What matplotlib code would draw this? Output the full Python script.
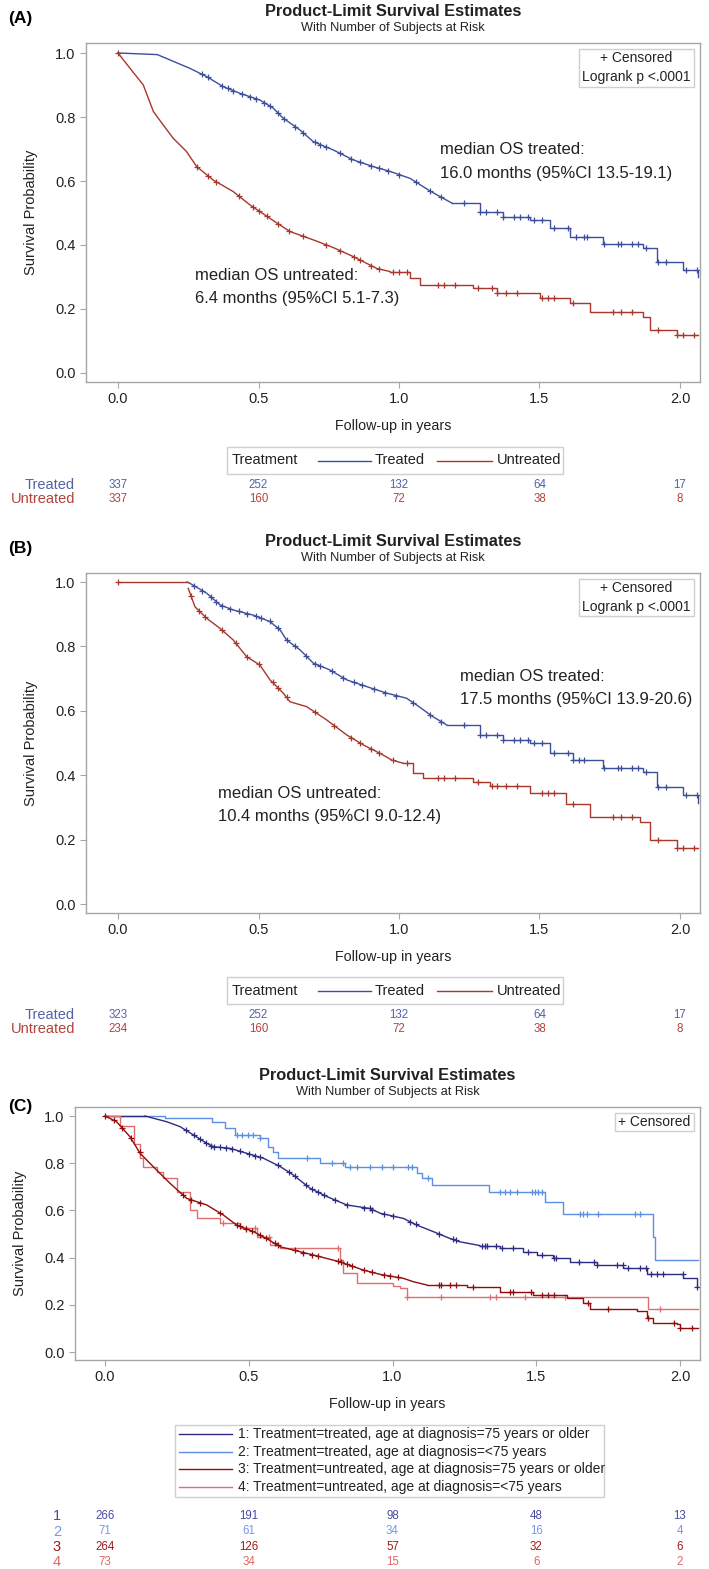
import numpy as np
import matplotlib
matplotlib.use("Agg")
import matplotlib.pyplot as plt
from matplotlib.lines import Line2D
from matplotlib.patches import Rectangle
import matplotlib.transforms as mtransforms

plt.rcParams['font.family'] = ['Liberation Sans', 'DejaVu Sans']

W, H = 709, 1569

# ---------------- data: panel A ----------------
A_trt_t = [0, 0.14, 0.256, 0.316, 0.374, 0.434, 0.505, 0.552, 0.587, 0.648, 0.695, 0.766, 0.837, 0.908, 0.968,
           1.04, 1.11, 1.19, 1.288, 1.37, 1.466, 1.537, 1.608, 1.726, 1.868, 1.918, 2.011, 2.064]
A_trt_s = [1.0, 0.995, 0.952, 0.926, 0.895, 0.874, 0.853, 0.828, 0.797, 0.759, 0.723, 0.697, 0.666, 0.645, 0.630,
           0.608, 0.569, 0.530, 0.504, 0.488, 0.478, 0.453, 0.426, 0.403, 0.390, 0.348, 0.322, 0.301]
A_unt_t = [0, 0.043, 0.09, 0.126, 0.161, 0.197, 0.244, 0.28, 0.339, 0.41, 0.47, 0.541, 0.612, 0.695, 0.766, 0.837,
           0.92, 0.968, 1.04, 1.075, 1.265, 1.348, 1.502, 1.608, 1.68, 1.868, 1.893, 1.989, 2.064]
A_unt_s = [1.0, 0.952, 0.90, 0.817, 0.775, 0.733, 0.692, 0.645, 0.603, 0.567, 0.525, 0.483, 0.442, 0.416, 0.392,
           0.364, 0.327, 0.317, 0.296, 0.275, 0.265, 0.249, 0.233, 0.218, 0.192, 0.176, 0.134, 0.119, 0.119]
A_trt_cens = [0.30, 0.32, 0.37, 0.39, 0.41, 0.44, 0.47, 0.49, 0.52, 0.54, 0.57, 0.59, 0.63, 0.66, 0.70, 0.72, 0.74,
              0.79, 0.83, 0.86, 0.90, 0.93, 0.96, 1.00, 1.06, 1.11, 1.15, 1.23, 1.29, 1.31, 1.35, 1.37, 1.41, 1.43,
              1.46, 1.48, 1.51, 1.55, 1.60, 1.63, 1.66, 1.67, 1.73, 1.78, 1.79, 1.83, 1.85, 1.88, 1.92, 1.95, 2.02, 2.06]
A_unt_cens = [0.0, 0.28, 0.32, 0.35, 0.43, 0.48, 0.50, 0.53, 0.57, 0.61, 0.66, 0.74, 0.79, 0.84, 0.86, 0.90, 0.93,
              0.98, 1.00, 1.03, 1.14, 1.16, 1.20, 1.28, 1.33, 1.35, 1.38, 1.42, 1.51, 1.53, 1.55, 1.62, 1.76, 1.79,
              1.83, 1.92, 1.99, 2.01, 2.05]
A_risk_trt = [337, 252, 132, 64, 17]
A_risk_unt = [337, 160, 72, 38, 8]

# ---------------- data: panel B ----------------
B_trt_t = [0.245, 0.256, 0.316, 0.363, 0.41, 0.482, 0.541, 0.577, 0.60, 0.648, 0.695, 0.754, 0.814, 0.885, 0.956,
           1.027, 1.063, 1.12, 1.17, 1.288, 1.37, 1.466, 1.537, 1.62, 1.727, 1.868, 1.918, 2.011, 2.064]
B_trt_s = [1.0, 0.996, 0.965, 0.929, 0.913, 0.897, 0.877, 0.851, 0.82, 0.789, 0.748, 0.727, 0.696, 0.675, 0.655,
           0.639, 0.618, 0.582, 0.556, 0.525, 0.51, 0.499, 0.468, 0.447, 0.421, 0.411, 0.364, 0.338, 0.313]
B_unt_t = [0, 0.25, 0.274, 0.316, 0.363, 0.41, 0.458, 0.505, 0.541, 0.588, 0.612, 0.671, 0.742, 0.814, 0.873,
           0.932, 0.975, 1.015, 1.051, 1.087, 1.265, 1.324, 1.466, 1.596, 1.68, 1.858, 1.893, 1.989, 2.064]
B_unt_s = [1.0, 0.98, 0.923, 0.887, 0.856, 0.82, 0.768, 0.742, 0.696, 0.655, 0.628, 0.613, 0.572, 0.525, 0.494,
           0.468, 0.447, 0.437, 0.406, 0.390, 0.380, 0.365, 0.344, 0.312, 0.271, 0.256, 0.199, 0.173, 0.173]
B_trt_cens = [0.27, 0.30, 0.33, 0.35, 0.37, 0.40, 0.43, 0.46, 0.49, 0.51, 0.54, 0.57, 0.60, 0.63, 0.67, 0.70, 0.72,
              0.76, 0.80, 0.84, 0.87, 0.91, 0.95, 0.99, 1.05, 1.11, 1.15, 1.23, 1.29, 1.31, 1.35, 1.37, 1.41, 1.43,
              1.46, 1.48, 1.51, 1.55, 1.60, 1.62, 1.64, 1.66, 1.73, 1.78, 1.79, 1.83, 1.85, 1.88, 1.92, 1.95, 2.02, 2.06]
B_unt_cens = [0.0, 0.26, 0.29, 0.31, 0.37, 0.42, 0.46, 0.50, 0.55, 0.57, 0.60, 0.70, 0.77, 0.83, 0.86, 0.90, 0.93,
              0.98, 1.03, 1.14, 1.16, 1.20, 1.28, 1.33, 1.35, 1.38, 1.42, 1.51, 1.53, 1.55, 1.62, 1.76, 1.79, 1.83,
              1.92, 1.99, 2.01, 2.05]
B_risk_trt = [323, 252, 132, 64, 17]
B_risk_unt = [234, 160, 72, 38, 8]

# ---------------- data: panel C ----------------
C1_t = [0, 0.139, 0.214, 0.261, 0.307, 0.354, 0.377, 0.435, 0.493, 0.551, 0.609, 0.655, 0.713, 0.771, 0.841,
        0.922, 0.957, 1.038, 1.084, 1.142, 1.20, 1.234, 1.304, 1.374, 1.455, 1.501, 1.559, 1.617, 1.71, 1.803,
        1.884, 2.012, 2.058]
C1_s = [1.0, 1.0, 0.976, 0.955, 0.92, 0.884, 0.870, 0.863, 0.842, 0.821, 0.786, 0.75, 0.694, 0.659, 0.623,
        0.608, 0.588, 0.566, 0.538, 0.510, 0.481, 0.467, 0.451, 0.439, 0.425, 0.411, 0.40, 0.382, 0.368, 0.354,
        0.329, 0.312, 0.276]
C2_t = [0, 0.209, 0.371, 0.417, 0.452, 0.539, 0.568, 0.585, 0.603, 0.748, 0.835, 1.084, 1.101, 1.136, 1.334,
        1.53, 1.594, 1.907, 1.912, 2.064]
C2_s = [1.0, 0.99, 0.976, 0.948, 0.92, 0.905, 0.87, 0.849, 0.821, 0.80, 0.783, 0.757, 0.736, 0.708, 0.680,
        0.637, 0.585, 0.489, 0.39, 0.39]
C3_t = [0, 0.04, 0.087, 0.122, 0.168, 0.226, 0.284, 0.354, 0.412, 0.458, 0.516, 0.562, 0.609, 0.655, 0.725,
        0.817, 0.899, 0.957, 1.038, 1.072, 1.119, 1.258, 1.374, 1.49, 1.606, 1.664, 1.687, 1.849, 1.884, 1.907,
        1.988, 2.0, 2.064]
C3_s = [1.0, 0.976, 0.912, 0.842, 0.785, 0.715, 0.651, 0.623, 0.58, 0.538, 0.510, 0.481, 0.446, 0.432, 0.411,
        0.382, 0.347, 0.329, 0.312, 0.298, 0.284, 0.277, 0.256, 0.24, 0.228, 0.207, 0.183, 0.172, 0.144, 0.122,
        0.117, 0.103, 0.103]
C4_t = [0, 0.052, 0.10, 0.122, 0.133, 0.18, 0.203, 0.249, 0.296, 0.319, 0.40, 0.47, 0.528, 0.574, 0.609, 0.817,
        0.829, 0.875, 1.003, 1.026, 1.049, 1.888, 2.064]
C4_s = [1.0, 0.958, 0.881, 0.824, 0.782, 0.761, 0.736, 0.679, 0.601, 0.566, 0.545, 0.524, 0.488, 0.453, 0.439,
        0.39, 0.333, 0.291, 0.28, 0.270, 0.232, 0.181, 0.181]
C1_cens = [0.28, 0.31, 0.33, 0.35, 0.37, 0.38, 0.40, 0.42, 0.44, 0.47, 0.50, 0.52, 0.54, 0.60, 0.64, 0.66, 0.70,
           0.72, 0.74, 0.76, 0.80, 0.84, 0.90, 0.92, 0.93, 0.97, 1.0, 1.06, 1.08, 1.16, 1.21, 1.22, 1.31, 1.32,
           1.33, 1.36, 1.38, 1.42, 1.47, 1.52, 1.56, 1.57, 1.65, 1.70, 1.71, 1.78, 1.80, 1.82, 1.86, 1.88, 1.90,
           1.92, 1.94, 2.01, 2.06]
C2_cens = [0.458, 0.475, 0.499, 0.516, 0.539, 0.701, 0.788, 0.829, 0.852, 0.875, 0.922, 0.962, 1.003, 1.055,
           1.067, 1.125, 1.374, 1.391, 1.409, 1.432, 1.484, 1.496, 1.507, 1.519, 1.652, 1.664, 1.676, 1.716,
           1.843, 1.861]
C3_cens = [0.0, 0.03, 0.06, 0.09, 0.12, 0.27, 0.30, 0.33, 0.40, 0.46, 0.47, 0.49, 0.51, 0.54, 0.56, 0.59, 0.60,
           0.66, 0.69, 0.72, 0.74, 0.81, 0.82, 0.84, 0.86, 0.90, 0.93, 0.97, 0.99, 1.02, 1.16, 1.17, 1.20, 1.22,
           1.28, 1.41, 1.42, 1.48, 1.52, 1.54, 1.56, 1.68, 1.75, 1.89, 1.98, 2.00, 2.04]
C4_cens = [0.41, 0.49, 0.52, 0.57, 0.81, 1.05, 1.17, 1.34, 1.36, 1.46, 1.60, 1.93]
C_risk = [[266, 191, 98, 48, 13],
          [71, 61, 34, 16, 4],
          [264, 126, 57, 32, 6],
          [73, 34, 15, 6, 2]]
C_labels = ["1: Treatment=treated, age at diagnosis=75 years or older",
            "2: Treatment=treated, age at diagnosis=<75 years",
            "3: Treatment=untreated, age at diagnosis=75 years or older",
            "4: Treatment=untreated, age at diagnosis=<75 years"]

x_ticks = [0.0, 0.5, 1.0, 1.5, 2.0]
y_ticks = [0.0, 0.2, 0.4, 0.6, 0.8, 1.0]

# ---------------- styles ----------------
BLUE = '#3d4f9a'
RED = '#a8372c'
BLUE_T = '#5363a8'
RED_T = '#b3443c'
C_COLORS = ['#2e2c82', '#5d8fe3', '#8f0d0d', '#df6f6f']
C_TCOLORS = ['#4a4aa2', '#6f9be6', '#a01a1a', '#e06565']
GRAY = '#a6a6a6'
TXT = '#222222'

fig = plt.figure(figsize=(W / 100, H / 100), dpi=100)
fig.patch.set_facecolor('white')


def fx(x):
    return x / W


def fy(y):
    return 1 - y / H


def make_axes(left, top, right, bottom, x0px, x2px, y1px, y0px):
    ax = fig.add_axes([fx(left), fy(bottom), fx(right - left), (bottom - top) / H])
    pxu = (x2px - x0px) / 2.0
    ax.set_xlim((left - x0px) / pxu, (right - x0px) / pxu)
    pyu = (y0px - y1px)
    ax.set_ylim(-(bottom - y0px) / pyu, 1 + (y1px - top) / pyu)
    for sp in ax.spines.values():
        sp.set_color(GRAY)
        sp.set_linewidth(1.0)
    ax.set_xticks(x_ticks)
    ax.set_yticks(y_ticks)
    ax.set_xticklabels([f"{v:.1f}" for v in x_ticks])
    ax.set_yticklabels([f"{v:.1f}" for v in y_ticks])
    ax.tick_params(colors=GRAY, labelcolor=TXT, labelsize=10.5, length=4, width=0.8)
    ax.set_xlabel("Follow-up in years", fontsize=10.3, color=TXT, labelpad=9)
    ax.set_ylabel("Survival Probability", fontsize=10.5, color=TXT, labelpad=12)
    return ax


def km(ax, t, s, cens, color, smooth_until=None, lw=1.0):
    """Dense early part (many tiny steps) drawn as a continuous trace, sparse later part as steps."""
    t = np.asarray(t, dtype=float)
    s = np.asarray(s, dtype=float)
    if smooth_until is None:
        ax.step(t, s, where='post', color=color, lw=lw)
    else:
        k = int(np.searchsorted(t, smooth_until, side='left'))
        k = min(k, len(t) - 1)
        ax.plot(t[:k + 1], s[:k + 1], color=color, lw=lw, solid_joinstyle='miter')
        ax.step(t[k:], s[k:], where='post', color=color, lw=lw)
    c = np.asarray(cens, dtype=float)
    if smooth_until is None:
        idx = np.clip(np.searchsorted(t, c, side='right') - 1, 0, len(s) - 1)
        cy = s[idx]
    else:
        idx = np.clip(np.searchsorted(t, c, side='right') - 1, 0, len(s) - 1)
        cy_step = s[idx]
        cy_lin = np.interp(c, t, s)
        cy = np.where(c <= smooth_until, cy_lin, cy_step)
    ax.plot(c, cy, ls='none', marker='+', ms=5, mew=0.9, color=color)


def titles(ax, top):
    cx = (ax.get_position().x0 + ax.get_position().x1) / 2
    fig.text(cx, fy(top - 32), "Product-Limit Survival Estimates", ha='center', va='center',
             fontsize=11.8, fontweight='bold', color=TXT)
    fig.text(cx, fy(top - 15), "With Number of Subjects at Risk", ha='center', va='center',
             fontsize=9.2, color=TXT)


def box_text(lines, x0, y0, x1, y1):
    fig.patches.append(Rectangle((fx(x0), fy(y1)), fx(x1 - x0), (y1 - y0) / H, transform=fig.transFigure,
                                 fill=True, facecolor='white', edgecolor='#cfcfcf', lw=1.0, zorder=5))
    n = len(lines)
    for i, ln in enumerate(lines):
        yy = y0 + (y1 - y0) * (i + 0.5) / n
        fig.text(fx((x0 + x1) / 2), fy(yy), ln, ha='center', va='center', fontsize=10, color=TXT, zorder=6)


def risk_rows(ax, rows, labels, colors, ys, label_x, label_ha, label_size):
    trans = mtransforms.blended_transform_factory(ax.transData, fig.transFigure)
    for vals, lab, col, y in zip(rows, labels, colors, ys):
        fig.text(fx(label_x), fy(y), lab, ha=label_ha, va='center', fontsize=label_size, color=col)
        for xv, v in zip(x_ticks, vals):
            fig.text(xv, fy(y), str(v), transform=trans, ha='center', va='center', fontsize=8.3, color=col)


def treat_legend(y0, y1):
    x0, x1 = 227, 563
    fig.patches.append(Rectangle((fx(x0), fy(y1)), fx(x1 - x0), (y1 - y0) / H, transform=fig.transFigure,
                                 fill=True, facecolor='white', edgecolor='#cfcfcf', lw=1.0))
    ym = (y0 + y1) / 2
    fig.text(fx(232), fy(ym), "Treatment", ha='left', va='center', fontsize=10.5, color=TXT)
    fig.lines.append(Line2D([fx(318), fx(371)], [fy(ym), fy(ym)], transform=fig.transFigure, color=BLUE, lw=1.0))
    fig.text(fx(375), fy(ym), "Treated", ha='left', va='center', fontsize=10.5, color=TXT)
    fig.lines.append(Line2D([fx(437), fx(492)], [fy(ym), fy(ym)], transform=fig.transFigure, color=RED, lw=1.0))
    fig.text(fx(497), fy(ym), "Untreated", ha='left', va='center', fontsize=10.5, color=TXT)


# ---------------- Panel A ----------------
axA = make_axes(86, 43, 700, 382, 118, 680, 53, 373)
km(axA, A_trt_t, A_trt_s, A_trt_cens, BLUE, smooth_until=1.19)
km(axA, A_unt_t, A_unt_s, A_unt_cens, RED, smooth_until=0.968)
titles(axA, 43)
fig.text(fx(8), fy(19), "(A)", ha='left', va='center', fontsize=12.5, fontweight='bold', color='black')
box_text(["+ Censored", "Logrank p <.0001"], 579, 49, 694, 87)
axA.text(1.146, 0.697, "median OS treated:", fontsize=12, color=TXT, va='center')
axA.text(1.146, 0.625, "16.0 months (95%CI 13.5-19.1)", fontsize=12, color=TXT, va='center')
axA.text(0.274, 0.306, "median OS untreated:", fontsize=12, color=TXT, va='center')
axA.text(0.274, 0.234, "6.4 months (95%CI 5.1-7.3)", fontsize=12, color=TXT, va='center')
treat_legend(447, 474)
risk_rows(axA, [A_risk_trt, A_risk_unt], ["Treated", "Untreated"], [BLUE_T, RED_T], [485, 499], 75, 'right', 10.5)

# ---------------- Panel B ----------------
axB = make_axes(86, 573, 700, 913, 118, 680, 582, 904)
km(axB, B_trt_t, B_trt_s, B_trt_cens, BLUE, smooth_until=1.17)
km(axB, B_unt_t[1:], B_unt_s[1:], [], RED, smooth_until=1.015)
km(axB, B_unt_t[:2], [B_unt_s[0], B_unt_s[0]], B_unt_cens, RED)
axB.lines[-1].remove()
# censor marks for untreated (B) at their curve positions
_bt = np.asarray(B_unt_t)
_bs = np.asarray(B_unt_s)
_bc = np.asarray(B_unt_cens)
_by = np.where(_bc < B_unt_t[1], 1.0,
               np.where(_bc <= 1.015, np.interp(_bc, _bt[1:], _bs[1:]),
                        _bs[np.clip(np.searchsorted(_bt, _bc, side='right') - 1, 0, len(_bs) - 1)]))
axB.plot(_bc, _by, ls='none', marker='+', ms=5, mew=0.9, color=RED)
titles(axB, 573)
fig.text(fx(8), fy(548), "(B)", ha='left', va='center', fontsize=12.5, fontweight='bold', color='black')
box_text(["+ Censored", "Logrank p <.0001"], 579, 579, 694, 616)
axB.text(1.217, 0.706, "median OS treated:", fontsize=12, color=TXT, va='center')
axB.text(1.217, 0.634, "17.5 months (95%CI 13.9-20.6)", fontsize=12, color=TXT, va='center')
axB.text(0.357, 0.344, "median OS untreated:", fontsize=12, color=TXT, va='center')
axB.text(0.357, 0.271, "10.4 months (95%CI 9.0-12.4)", fontsize=12, color=TXT, va='center')
treat_legend(977, 1004)
risk_rows(axB, [B_risk_trt, B_risk_unt], ["Treated", "Untreated"], [BLUE_T, RED_T], [1015, 1029], 75, 'right', 10.5)

# ---------------- Panel C ----------------
axC = make_axes(75, 1107, 700, 1360, 105, 680, 1116, 1352)
km(axC, C2_t, C2_s, C2_cens, C_COLORS[1])
km(axC, C1_t[1:], C1_s[1:], C1_cens, C_COLORS[0], smooth_until=1.304)
axC.plot(C1_t[:2], C1_s[:2], color=C_COLORS[0], lw=1.0)
km(axC, C4_t, C4_s, C4_cens, C_COLORS[3])
km(axC, C3_t, C3_s, C3_cens, C_COLORS[2], smooth_until=1.119)
titles(axC, 1107)
fig.text(fx(8), fy(1106), "(C)", ha='left', va='center', fontsize=12.5, fontweight='bold', color='black')
box_text(["+ Censored"], 615, 1113, 694, 1131)
# legend C
fig.patches.append(Rectangle((fx(175), fy(1497)), fx(604 - 175), (1497 - 1425) / H, transform=fig.transFigure,
                             fill=True, facecolor='white', edgecolor='#cfcfcf', lw=1.0))
for i, (lab, col) in enumerate(zip(C_labels, C_COLORS)):
    yy = 1434 + i * 17.7
    fig.lines.append(Line2D([fx(179), fx(232)], [fy(yy), fy(yy)], transform=fig.transFigure, color=col, lw=1.0))
    fig.text(fx(238), fy(yy), lab, ha='left', va='center', fontsize=10, color=TXT)
risk_rows(axC, C_risk, ["1", "2", "3", "4"], C_TCOLORS, [1516, 1531.5, 1547, 1562], 57, 'center', 10.5)

fig.savefig("out.png", dpi=100, facecolor='white')
